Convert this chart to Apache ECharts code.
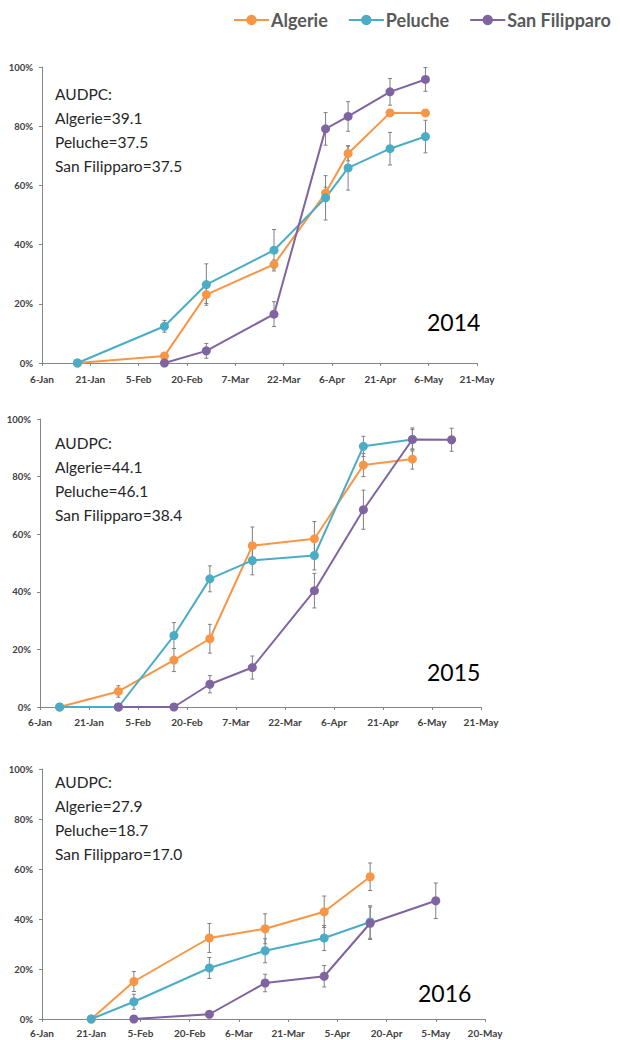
<!DOCTYPE html>
<html><head><meta charset="utf-8">
<script src="https://cdn.jsdelivr.net/npm/echarts@6/dist/echarts.min.js"></script>
<style>html,body{margin:0;padding:0;background:#fff;}#c{width:620px;height:1040px;}</style>
</head><body><div id="c"></div>
<script>
const seriesNames = ['Algerie', 'Peluche', 'San Filipparo'];
const colors = ['#F79646', '#4BACC6', '#8064A2'];

const years = [2014, 2015, 2016];
const ticks2014 = ['6-Jan','21-Jan','5-Feb','20-Feb','7-Mar','22-Mar','6-Apr','21-Apr','6-May','21-May'];
const ticks2015 = ['6-Jan','21-Jan','5-Feb','20-Feb','7-Mar','22-Mar','6-Apr','21-Apr','6-May','21-May'];
const ticks2016 = ['6-Jan','21-Jan','5-Feb','20-Feb','6-Mar','21-Mar','5-Apr','20-Apr','5-May','20-May'];
const yTicks = ['0%','20%','40%','60%','80%','100%'];

const dates2014 = ['2014-01-17','2014-02-13','2014-02-26','2014-03-19','2014-04-04','2014-04-11','2014-04-24','2014-05-05'];
const alg2014 = [0, 2.4, 23.1, 33.3, 57.4, 70.8, 84.5, 84.5];
const pel2014 = [0, 12.4, 26.5, 38.1, 55.8, 65.9, 72.4, 76.5];
const sf2014  = [null, 0, 4.1, 16.5, 79.1, 83.3, 91.6, 95.8];
const algErr2014 = [0, 1, 3, 1.5, 2, 2.5, 1, 1];
const pelErr2014 = [0, 2, 7, 7, 7.5, 7.5, 5.5, 5.5];
const sfErr2014  = [null, 0, 2.5, 4.2, 5.5, 5, 4.5, 4];

const dates2015 = ['2015-01-12','2015-01-30','2015-02-16','2015-02-27','2015-03-12','2015-03-31','2015-04-15','2015-04-30','2015-05-12'];
const alg2015 = [0, 5.4, 16.3, 23.7, 56, 58.4, 84, 86.1, null];
const pel2015 = [0, 0, 24.8, 44.5, 50.9, 52.6, 90.5, 92.9, null];
const sf2015  = [null, 0, 0, 7.9, 13.7, 40.4, 68.5, 92.9, 92.8];
const algErr2015 = [0, 2, 4, 5, 6.5, 6, 4, 3.5, null];
const pelErr2015 = [0, 0, 4.5, 4.5, 5, 5, 3.5, 3.5, null];
const sfErr2015  = [null, 0, 0, 3, 4, 6, 6.8, 4, 4];

const dates2016 = ['2016-01-21','2016-02-03','2016-02-26','2016-03-14','2016-04-01','2016-04-15','2016-05-05'];
const alg2016 = [0, 15, 32.4, 36.1, 42.9, 56.9, null];
const pel2016 = [0, 6.9, 20.4, 27.3, 32.4, 38.8, null];
const sf2016  = [null, 0, 1.9, 14.4, 17.1, 38.3, 47.3];
const algErr2016 = [0, 4, 5.8, 6, 6.3, 5.5, null];
const pelErr2016 = [0, 3, 4.2, 4.8, 5, 6.5, null];
const sfErr2016  = [null, 0, 1, 3.5, 4.3, 6.5, 7.1];

const audpc2014 = [39.1, 37.5, 37.5];
const audpc2015 = [44.1, 46.1, 38.4];
const audpc2016 = [27.9, 18.7, 17.0];

const panels = [
  {year: 2014, ticks: ticks2014, dates: dates2014, vals: [alg2014, pel2014, sf2014], errs: [algErr2014, pelErr2014, sfErr2014], audpc: audpc2014},
  {year: 2015, ticks: ticks2015, dates: dates2015, vals: [alg2015, pel2015, sf2015], errs: [algErr2015, pelErr2015, sfErr2015], audpc: audpc2015},
  {year: 2016, ticks: ticks2016, dates: dates2016, vals: [alg2016, pel2016, sf2016], errs: [algErr2016, pelErr2016, sfErr2016], audpc: audpc2016}
];

// layout (pixels)
const grids = [
  {left: 42, top: 67, width: 435, height: 296},
  {left: 40, top: 419, width: 441, height: 288},
  {left: 42, top: 769, width: 443, height: 250}
];
const textTops = [82, 431, 770];
const yearPos = [[427, 322], [427, 672], [418, 993]];
const labelMargins = [11, 10, 9];

function dayOffset(s) {
  const p = s.split('-').map(Number);
  return (Date.UTC(p[0], p[1]-1, p[2]) - Date.UTC(p[0], 0, 6)) / 86400000;
}

const option = {
  animation: false,
  backgroundColor: '#fff',
  legend: {
    top: 6, left: 228,
    itemWidth: 35, itemHeight: 13, itemGap: 20,
    data: seriesNames,
    textStyle: {fontFamily: 'Lato', fontSize: 18, fontWeight: 'bold', color: '#595959', padding: [0,0,0,-3]}
  },
  grid: grids,
  xAxis: [], yAxis: [], series: [], graphic: []
};

panels.forEach((pn, gi) => {
  option.xAxis.push({
    type: 'value', gridIndex: gi, min: 0, max: 135, interval: 15,
    axisLine: {show: true, lineStyle: {color: '#868686', width: 1}},
    axisTick: {show: true, length: 3, lineStyle: {color: '#868686'}},
    splitLine: {show: false},
    axisLabel: {fontFamily: 'Lato', fontSize: 10, color: '#404040', fontWeight: 'bold', margin: labelMargins[gi],
      formatter: v => pn.ticks[Math.round(v/15)] || ''}
  });
  option.yAxis.push({
    type: 'value', gridIndex: gi, min: 0, max: 100, interval: 20,
    axisLine: {show: true, lineStyle: {color: '#868686', width: 1}},
    axisTick: {show: true, length: 3, lineStyle: {color: '#868686'}},
    splitLine: {show: false},
    axisLabel: {fontFamily: 'Lato', fontSize: 9.5, color: '#404040', fontWeight: 'bold', margin: 9,
      formatter: v => yTicks[Math.round(v/20)]}
  });
  const xs = pn.dates.map(dayOffset);
  seriesNames.forEach((nm, si) => {
    const errData = [];
    xs.forEach((x, i) => {
      const v = pn.vals[si][i];
      if (v !== null && pn.errs[si][i]) errData.push([x, v - pn.errs[si][i], v + pn.errs[si][i]]);
    });
    option.series.push({
      type: 'custom', xAxisIndex: gi, yAxisIndex: gi, silent: true, z: 1,
      data: errData,
      renderItem: (params, api) => {
        const lo = api.coord([api.value(0), api.value(1)]);
        const hi = api.coord([api.value(0), api.value(2)]);
        const w = 2;
        return {type: 'group', children: [
          {type: 'line', shape: {x1: lo[0], y1: lo[1], x2: hi[0], y2: hi[1]}, style: {stroke: '#808080', lineWidth: 1}},
          {type: 'line', shape: {x1: lo[0]-w, y1: lo[1], x2: lo[0]+w, y2: lo[1]}, style: {stroke: '#808080', lineWidth: 1}},
          {type: 'line', shape: {x1: hi[0]-w, y1: hi[1], x2: hi[0]+w, y2: hi[1]}, style: {stroke: '#808080', lineWidth: 1}}
        ]};
      }
    });
  });
  seriesNames.forEach((nm, si) => {
    const data = [];
    xs.forEach((x, i) => { if (pn.vals[si][i] !== null) data.push([x, pn.vals[si][i]]); });
    option.series.push({
      name: nm, type: 'line', xAxisIndex: gi, yAxisIndex: gi, z: 3,
      data: data, symbol: 'circle', symbolSize: 9, showSymbol: true,
      itemStyle: {color: colors[si]}, lineStyle: {color: colors[si], width: 2}
    });
  });
  option.graphic.push({
    type: 'text', left: 55, top: textTops[gi],
    style: {
      text: 'AUDPC:\n' + seriesNames.map((n, k) => n + '=' + pn.audpc[k].toFixed(1)).join('\n'),
      font: '15.5px Lato', fill: '#262626', lineHeight: 24
    }
  });
  option.graphic.push({
    type: 'text', left: yearPos[gi][0], top: yearPos[gi][1] - 15,
    style: {text: String(pn.year), font: '23px Lato', fill: '#000', lineHeight: 30}
  });
});

const chart = echarts.init(document.getElementById('c'), null, {renderer: 'svg'});
chart.setOption(option);
</script></body></html>
